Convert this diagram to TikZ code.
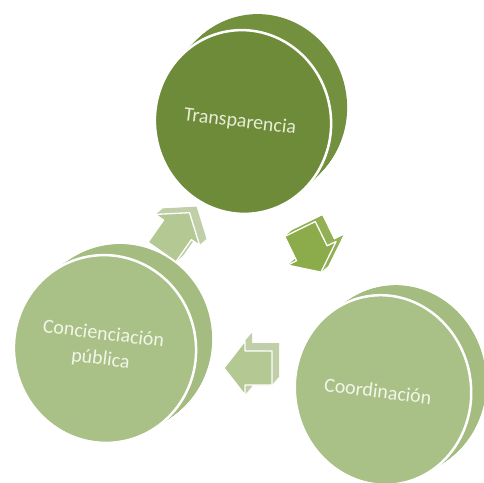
\documentclass[tikz,border=0pt]{standalone}
\usepackage{fontspec}
\setmainfont{Carlito}
\definecolor{darkg}{HTML}{6E8B39}
\definecolor{darkrim}{HTML}{73903E}
\definecolor{lightg}{HTML}{A9C186}
\definecolor{lightrim}{HTML}{A4BC80}
\definecolor{arrA}{HTML}{8CAB4A}
\definecolor{arrAside}{HTML}{93B055}
\definecolor{arrB}{HTML}{B4C893}
\definecolor{arrBside}{HTML}{C0CFA8}
\definecolor{txtdark}{HTML}{E6ECD6}
\definecolor{txtlight}{HTML}{F2F5EA}
\tikzset{
  disctext/.style={font=\fontsize{20}{25}\selectfont, align=center, rotate=-7},
}
% cx, cy, rx, ry, rot, dx, dy, front, rim
\newcommand\mydisc[9]{%
  \foreach \i in {0,...,24}{%
    \pgfmathsetmacro\tt{\i/24}%
    \fill[#9, rotate around={#5:({#1+\tt*#6},{#2+\tt*#7})}]
      ({#1+\tt*#6},{#2+\tt*#7}) ellipse [x radius=#3pt, y radius=#4pt];
  }%
  \draw[white, line width=2.5pt, fill=#8, rotate around={#5:(#1,#2)}]
    (#1,#2) ellipse [x radius=#3pt, y radius=#4pt];
}
% x, y, angle, front, side, dx, dy
\newcommand\myarrow[7]{%
  \foreach \i in {0,...,14}{%
    \pgfmathsetmacro\tt{\i/14}%
    \fill[#5, shift={({#1+\tt*#6},{#2+\tt*#7})}, rotate=#3]
      (0,-17) -- (27,-17) -- (27,-27) -- (48,0) -- (27,27) -- (27,17) -- (0,17) -- cycle;
  }%
  \draw[white, line width=1.3pt, line join=round, fill=#4, shift={(#1,#2)}, rotate=#3]
      (0,-17) -- (27,-17) -- (27,-27) -- (48,0) -- (27,27) -- (27,17) -- (0,17) -- cycle;
}
\begin{document}
\begin{tikzpicture}[x=1pt,y=-1pt]
\useasboundingbox[fill=white] (0,0) rectangle (484,482);
% discs
\mydisc{243}{122}{88}{92}{10}{16}{-16}{darkg}{darkrim}
\mydisc{105}{349}{91}{94}{10}{16}{-11}{lightg}{lightrim}
\mydisc{383}{390}{88}{95}{10}{15}{-10}{lightg}{lightrim}
% arrows
\myarrow{300}{229}{-64}{arrA}{arrAside}{7}{-6}
\myarrow{162}{252}{55}{arrB}{arrBside}{7}{-6}
\myarrow{272}{368}{180}{arrB}{arrBside}{7}{-8}
% texts
\node[disctext, text=txtdark] (trans) at (240,122) {Transparencia};
\node[disctext, text=txtlight] (conc) at (102,347) {Concienciación\\pública};
\node[disctext, text=txtlight] (coord) at (378,391) {Coordinación};
\end{tikzpicture}
\end{document}
